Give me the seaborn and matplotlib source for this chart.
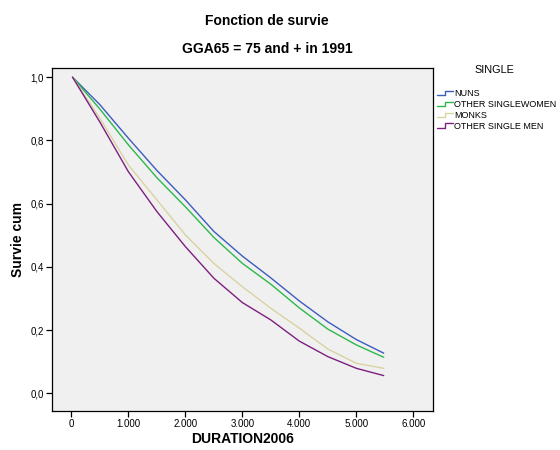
import numpy as np
import pandas as pd
import matplotlib
matplotlib.use("Agg")
import matplotlib.pyplot as plt
import seaborn as sns
from matplotlib.lines import Line2D
from matplotlib.legend_handler import HandlerBase
from matplotlib.ticker import FuncFormatter, MultipleLocator

# ---- data ----
duration = [20, 500, 1000, 1500, 2000, 2500, 3000, 3500, 4000, 4500, 5000, 5480]
nuns = [1.0, 0.913, 0.807, 0.705, 0.612, 0.512, 0.434, 0.365, 0.292, 0.226, 0.170, 0.127]
other_women = [1.0, 0.899, 0.786, 0.682, 0.590, 0.493, 0.411, 0.345, 0.270, 0.203, 0.153, 0.114]
monks = [1.0, 0.870, 0.722, 0.612, 0.501, 0.411, 0.337, 0.269, 0.206, 0.140, 0.095, 0.079]
other_men = [1.0, 0.858, 0.701, 0.575, 0.464, 0.364, 0.287, 0.232, 0.165, 0.116, 0.079, 0.056]
groups = ["NUNS", "OTHER SINGLEWOMEN", "MONKS", "OTHER SINGLE MEN"]
colors = ["#3c5cbf", "#2cb84a", "#d9d2a2", "#7e1f80"]

series = [nuns, other_women, monks, other_men]
df = pd.concat(
    [pd.DataFrame({"DURATION2006": duration, "Survie cum": s, "SINGLE": g})
     for g, s in zip(groups, series)],
    ignore_index=True,
)

sns.set_theme(style="white")
plt.rcParams["font.family"] = ["Liberation Sans", "DejaVu Sans"]
plt.rcParams["text.color"] = "black"
plt.rcParams["axes.labelcolor"] = "black"

fig = plt.figure(figsize=(5.6, 4.5), dpi=100)
ax = fig.add_axes([52 / 560, 1 - 411 / 450, (433 - 52) / 560, (411 - 68) / 450])
ax.set_facecolor("#f0f0f0")

sns.lineplot(data=df, x="DURATION2006", y="Survie cum", hue="SINGLE",
             hue_order=groups, palette=colors, estimator=None, sort=False,
             linewidth=1.0, legend=False, ax=ax)

ax.set_xlim(-340, 6345)
ax.set_ylim(-0.056, 1.029)
ax.xaxis.set_major_locator(MultipleLocator(1000))
ax.yaxis.set_major_locator(MultipleLocator(0.2))
ax.xaxis.set_major_formatter(FuncFormatter(lambda v, p: f"{int(round(v)):,}".replace(",", ".")))
ax.yaxis.set_major_formatter(FuncFormatter(lambda v, p: f"{v:.1f}".replace(".", ",")))
ax.tick_params(axis="both", which="major", direction="out", length=4, width=0.9,
               labelsize=7, colors="black", left=True, bottom=True, pad=2)
for sp in ax.spines.values():
    sp.set_color("black")
    sp.set_linewidth(0.9)

ax.set_xlabel("DURATION2006", fontsize=10, fontweight="bold", labelpad=2)
ax.set_ylabel("Survie cum", fontsize=10, fontweight="bold", labelpad=4)

fig.text(267 / 560, 1 - 21 / 450, "Fonction de survie", ha="center", va="center",
         fontsize=10, fontweight="bold")
fig.text(267 / 560, 1 - 49 / 450, "GGA65 = 75 and + in 1991", ha="center", va="center",
         fontsize=10, fontweight="bold")
fig.text(494 / 560, 1 - 70 / 450, "SINGLE", ha="center", va="center", fontsize=7.8)


class StepHandler(HandlerBase):
    def create_artists(self, legend, orig_handle, xdescent, ydescent, width, height,
                       fontsize, trans):
        xs = np.array([0, 0.5, 0.5, 1.0]) * width - xdescent
        ys = np.array([0.15, 0.15, 0.85, 0.85]) * height - ydescent
        ln = Line2D(xs, ys, color=orig_handle.get_color(), lw=1.0)
        ln.set_transform(trans)
        return [ln]


handles = [Line2D([], [], color=c) for c in colors]
leg = fig.legend(handles, groups, loc="upper left",
                 bbox_to_anchor=(431 / 560, 1 - 83 / 450), frameon=False,
                 fontsize=6.5, handlelength=1.7,
                 handletextpad=0.15, labelspacing=0.2, borderpad=0.2,
                 handler_map={Line2D: StepHandler()})

fig.savefig("out.png", dpi=100, facecolor="white")
